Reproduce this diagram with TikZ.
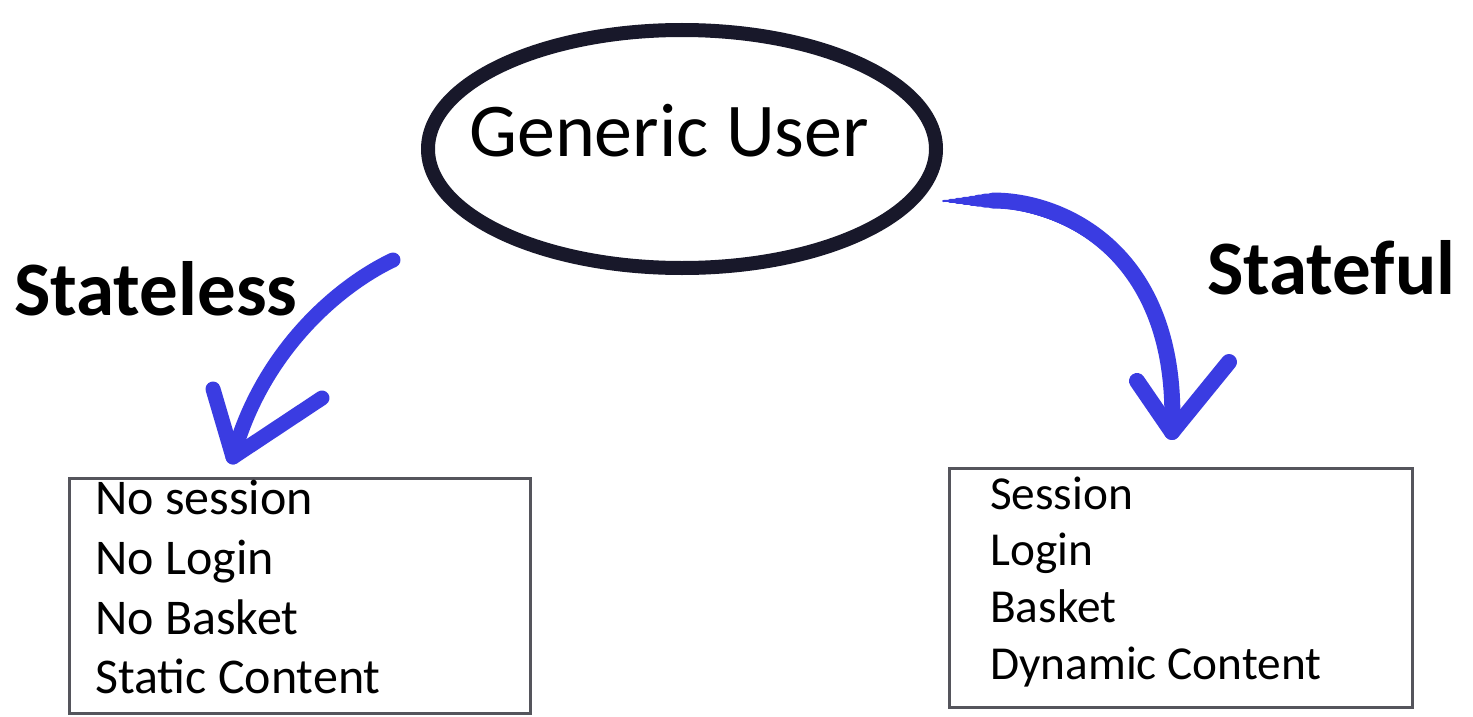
\documentclass[tikz,border=0pt]{standalone}
\usepackage{fontspec}
\setmainfont{Carlito}
\definecolor{inkblue}{RGB}{58,60,226}
\definecolor{rimdark}{RGB}{24,24,42}
\definecolor{framegray}{RGB}{85,85,92}
\begin{document}
\begin{tikzpicture}[x=1pt,y=-1pt,
  rim/.style={draw=rimdark, line width=14pt},
  userlabel/.style={font=\fontsize{76}{90}\selectfont, anchor=base west, inner sep=0pt},
  biglabel/.style={font=\fontsize{77}{90}\selectfont\bfseries, anchor=base west, inner sep=0pt},
  itembox/.style={draw=framegray, line width=3pt, anchor=north west, inner sep=0pt},
  litem/.style={font=\fontsize{50}{60}\selectfont, anchor=base west, inner sep=0pt},
  ritem/.style={font=\fontsize{47.3}{57}\selectfont, anchor=base west, inner sep=0pt},
  flow/.style={draw=inkblue, line width=15pt, line cap=round, line join=round}
]
\useasboundingbox (0,0) rectangle (1473,717);
\fill[white] (0,0) rectangle (1473,717);

% central user ellipse
\node[inner sep=0pt, minimum width=508pt, minimum height=238pt] (user) at (682,149) {};
\draw[rim] (user.center) ellipse [x radius=254, y radius=119];
\node[userlabel] (userlbl) at (469,156) {Generic User};

% branch labels
\node[biglabel] (lessLbl) at (14,315) {Stateless};
\node[biglabel] (fulLbl) at (1207,294) {Stateful};

% property boxes
\node[itembox, minimum width=461pt, minimum height=235pt] (lbox) at (67.5,476.5) {};
\node[itembox, minimum width=463pt, minimum height=239pt] (rbox) at (947.5,466.5) {};

\node[litem] (l1) at (95,514) {No session};
\node[litem] (l2) at (95,574) {No Login};
\node[litem] (l3) at (95,634) {No Basket};
\node[litem] (l4) at (95,693) {Static Content};

\node[ritem] (r1) at (990,509) {Session};
\node[ritem] (r2) at (990,565) {Login};
\node[ritem] (r3) at (990,622) {Basket};
\node[ritem] (r4) at (990,679) {Dynamic Content};

% left hand-drawn arrow
\coordinate (ls) at (393,260);
\coordinate (lt) at (233,457);
\coordinate (la) at (213,389);
\coordinate (lb) at (322,398);
\draw[flow] (ls) .. controls (340,285) and (262,350) .. (lt);
\draw[flow] (la) -- (lt) -- (lb);

% right hand-drawn arrow, tapering at its start
\coordinate (rs) at (943,201);
\coordinate (rt) at (1172,432);
\coordinate (ra) at (1137,381);
\coordinate (rb) at (1229,362);
\foreach \w/\s in {2/0,4/7,6/14,8/21,10/28,12/35,14/42,16/50}
  \draw[flow, line width=\w pt, shorten <=\s pt] (rs) .. controls (1060,200) and (1180,250) .. (rt);
\draw[flow, line width=16pt] (ra) -- (rt) -- (rb);
\end{tikzpicture}
\end{document}
